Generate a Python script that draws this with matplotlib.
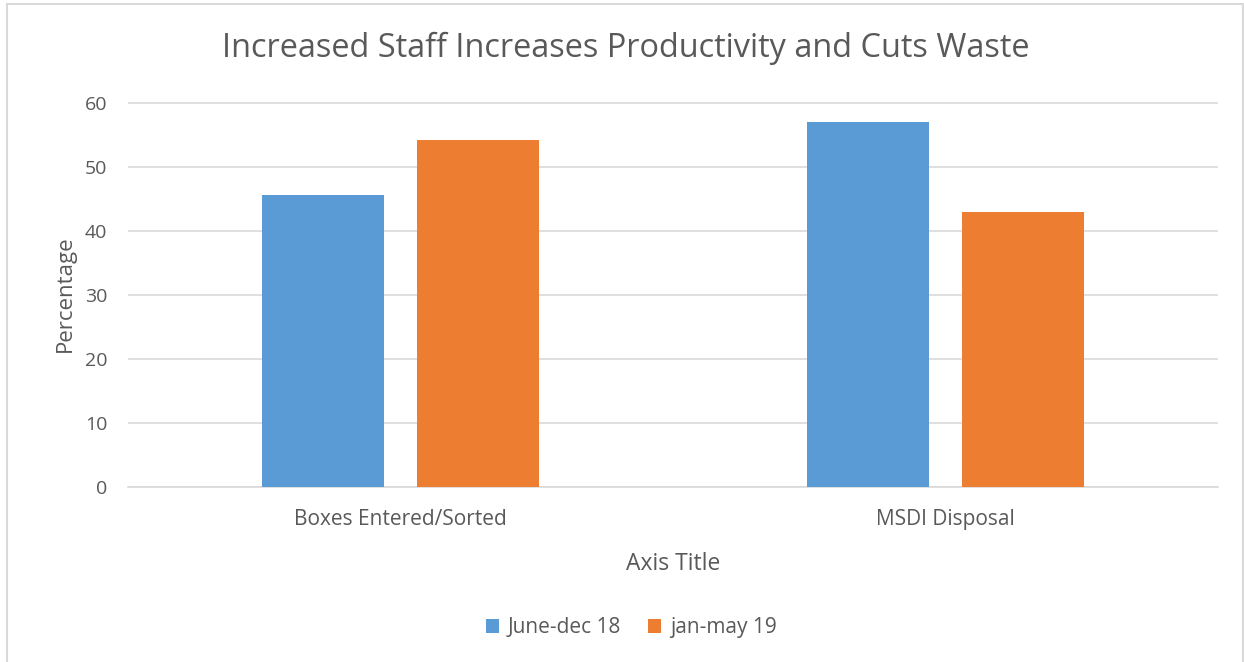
import numpy as np
import matplotlib
matplotlib.use("Agg")
import matplotlib.pyplot as plt
from matplotlib.patches import Rectangle

# данные графика
categories = ["Boxes Entered/Sorted", "MSDI Disposal"]
series_names = ["June-dec 18", "jan-may 19"]
june_dec_18 = [45.7, 57.0]
jan_may_19 = [54.2, 42.9]

plt.rcParams['font.family'] = ['Open Sans', 'DejaVu Sans']
txt = '#595959'
grid_c = '#D9D9D9'

fig = plt.figure(figsize=(12.44, 6.62), dpi=100)
ax = fig.add_axes([0.1029, 0.2644, 0.9791 - 0.1029, 0.8473 - 0.2644])

x = np.arange(len(categories))
w = 0.224
off = 0.142
ax.bar(x - off, june_dec_18, w, color='#5B9BD5', label=series_names[0], zorder=3)
ax.bar(x + off, jan_may_19, w, color='#ED7D31', label=series_names[1], zorder=3)

ax.set_xlim(-0.5, 1.5)
ax.set_ylim(0, 60.3)
ax.set_yticks(np.arange(0, 61, 10))
ax.set_xticks(x)
ax.set_xticklabels(categories)

ax.grid(axis='y', color=grid_c, linewidth=1.2, zorder=0)
for s in ['top', 'right', 'left']:
    ax.spines[s].set_visible(False)
ax.spines['bottom'].set_color(grid_c)
ax.spines['bottom'].set_linewidth(1.2)
ax.tick_params(axis='y', length=0, pad=15, labelsize=14, labelcolor=txt)
ax.tick_params(axis='x', length=0, pad=16, labelsize=15, labelcolor=txt)

ax.set_ylabel("Percentage", fontsize=16, color=txt, labelpad=6)
ax.set_xlabel("Axis Title", fontsize=16.5, color=txt, labelpad=16)

fig.text(0.503, 0.9275, "Increased Staff Increases Productivity and Cuts Waste",
         ha='center', va='center', fontsize=23.4, color=txt)

fig.legend(loc='center', bbox_to_anchor=(631 / 1244, 0.0514), ncol=2, frameon=False,
           fontsize=15, labelcolor=txt, handlelength=0.65, handleheight=0.65,
           handletextpad=0.4, columnspacing=1.3)

# рамка вокруг графика
fig.patches.append(Rectangle((7 / 1244, -0.01), 1236 / 1244, 658 / 662 + 0.01,
                             transform=fig.transFigure, fill=False,
                             edgecolor=grid_c, linewidth=1.5))

fig.savefig('out.png', dpi=100)
